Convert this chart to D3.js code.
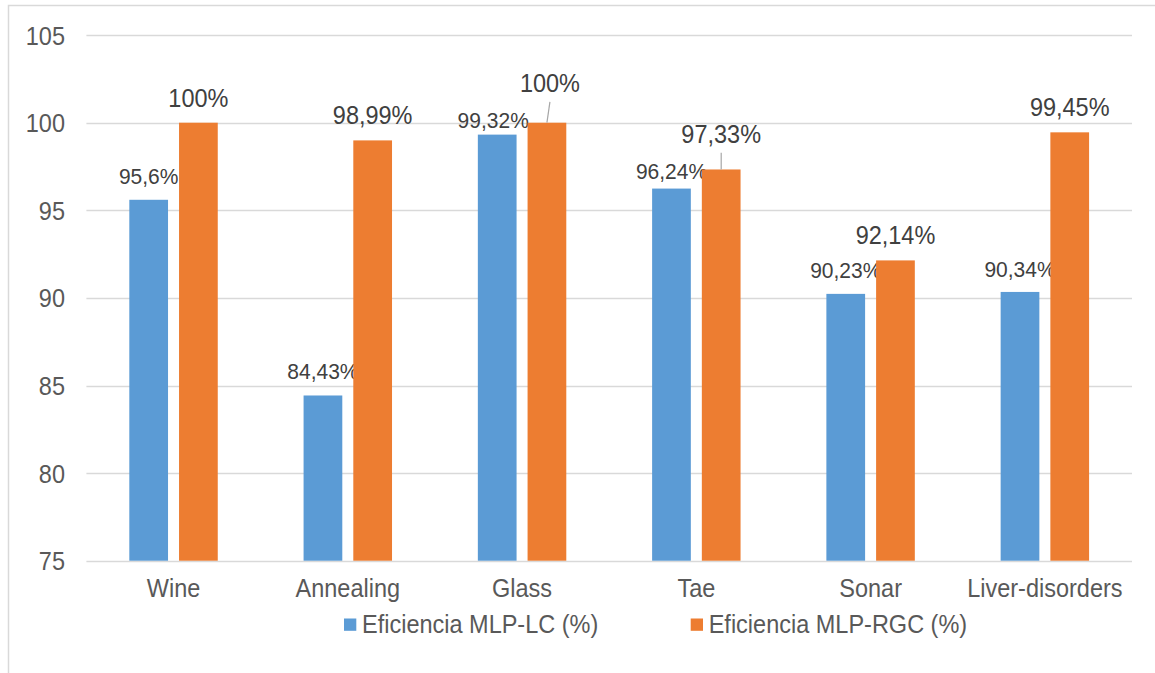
<!DOCTYPE html>
<html>
<head>
<meta charset="utf-8">
<script src="https://cdn.jsdelivr.net/npm/d3@7/dist/d3.min.js"></script>
<style>
  html, body { margin: 0; padding: 0; background: #fff; }
  svg { display: block; font-family: "Liberation Sans", Arial, sans-serif; }
</style>
</head>
<body>
<svg id="chart" width="1155" height="673"></svg>
<script>
// Datasets and efficiency of each classifier (%)
const categories = ["Wine", "Annealing", "Glass", "Tae", "Sonar", "Liver-disorders"];
const seriesNames = ["Eficiencia MLP-LC (%)", "Eficiencia MLP-RGC (%)"];
const mlpLC  = [95.6, 84.43, 99.32, 96.24, 90.23, 90.34];
const mlpRGC = [100, 98.99, 100, 97.33, 92.14, 99.45];
const valueLabelsLC  = ["95,6%", "84,43%", "99,32%", "96,24%", "90,23%", "90,34%"];
const valueLabelsRGC = ["100%", "98,99%", "100%", "97,33%", "92,14%", "99,45%"];
const yTicks = [75, 80, 85, 90, 95, 100, 105];

// Label placement tweaks: [dx, gap above bar top (to baseline)]; leader = draw connector line
const lcLabelNudge  = [[0, 15.5], [0, 16.5], [-4, 7], [0, 10], [0, 15.5], [0, 15]];
const rgcLabelNudge = [[0, 16], [0, 16.5], [3, 30.4], [0, 26.2], [0, 16.7], [0, 16]];
const rgcLeader     = [false, false, true, true, false, false];

const colors = ["#5b9bd5", "#ed7d31"];
const TEXT_STRETCH = 1.07; // glyphs are drawn slightly taller than the font's natural shape
const svg = d3.select("#chart");

// Outer chart frame
svg.append("rect")
  .attr("x", 8.5).attr("y", 5.5)
  .attr("width", 1160).attr("height", 680)
  .attr("fill", "none").attr("stroke", "#d9d9d9").attr("stroke-width", 1.5);

const x0 = d3.scaleBand().domain(categories).range([86.4, 1132]).padding(0);
const x1 = d3.scaleBand().domain(seriesNames).range([0, x0.bandwidth()])
  .paddingInner(0.2213).paddingOuter(0.863);
const y = d3.scaleLinear().domain([75, 105]).range([560.7, 35.1]);

// Horizontal gridlines
svg.append("g").selectAll("line").data(yTicks).join("line")
  .attr("x1", 86.4).attr("x2", 1132)
  .attr("y1", d => Math.round(y(d)) + 0.5).attr("y2", d => Math.round(y(d)) + 0.5)
  .attr("stroke", "#d9d9d9").attr("stroke-width", 1.5);

// Y axis labels
const yAxis = d3.axisLeft(y).tickValues(yTicks).tickSize(0).tickPadding(0);
const yg = svg.append("g").attr("transform", "translate(65,0)").call(yAxis);
yg.select(".domain").remove();
yg.selectAll("text")
  .attr("fill", "#595959").attr("font-size", "23.5px")
  .attr("font-family", "Liberation Sans, Arial, sans-serif")
  .attr("dy", null).attr("y", 8.4)
  .attr("transform", `scale(1,${TEXT_STRETCH})`);

// X axis category labels
const xAxis = d3.axisBottom(x0).tickSize(0).tickPadding(0);
const xg = svg.append("g").attr("transform", "translate(0,597)").call(xAxis);
xg.select(".domain").remove();
xg.selectAll("text")
  .attr("fill", "#595959").attr("font-size", "23.5px")
  .attr("font-family", "Liberation Sans, Arial, sans-serif")
  .attr("dy", null).attr("y", 0)
  .attr("transform", `scale(1,${TEXT_STRETCH})`);

const seriesData = [mlpLC, mlpRGC];
const labelData = [valueLabelsLC, valueLabelsRGC];
const nudges = [lcLabelNudge, rgcLabelNudge];

seriesData.forEach((vals, s) => {
  const rows = categories.map((c, i) => ({ c, v: vals[i], label: labelData[s][i], i }));
  const g = svg.append("g");
  g.selectAll("rect").data(rows).join("rect")
    .attr("x", d => x0(d.c) + x1(seriesNames[s]))
    .attr("width", x1.bandwidth())
    .attr("y", d => y(d.v))
    .attr("height", d => y(75) - y(d.v))
    .attr("fill", colors[s]);

  const cx = d => x0(d.c) + x1(seriesNames[s]) + x1.bandwidth() / 2;

  if (s === 1) {
    g.selectAll("line.leader").data(rows.filter(d => rgcLeader[d.i])).join("line")
      .attr("class", "leader")
      .attr("x1", d => cx(d) + nudges[s][d.i][0])
      .attr("y1", d => y(d.v) - nudges[s][d.i][1] + 9.5)
      .attr("x2", d => cx(d))
      .attr("y2", d => y(d.v))
      .attr("stroke", "#a6a6a6").attr("stroke-width", 1.2);
  }

  g.selectAll("text").data(rows).join("text")
    .attr("transform", d =>
      `translate(${cx(d) + nudges[s][d.i][0]},${y(d.v) - nudges[s][d.i][1]}) scale(1,${TEXT_STRETCH})`)
    .attr("text-anchor", "middle")
    .attr("fill", "#404040")
    .attr("font-size", s === 0 ? "21px" : "23.5px")
    .text(d => d.label);
});

// Legend
const legendItems = [
  { name: seriesNames[0], color: colors[0], x: 344 },
  { name: seriesNames[1], color: colors[1], x: 690.7 }
];
const lg = svg.append("g");
legendItems.forEach(item => {
  lg.append("rect").attr("x", item.x).attr("y", 618.5)
    .attr("width", 12.3).attr("height", 12.3).attr("fill", item.color);
  lg.append("text")
    .attr("transform", `translate(${item.x + 18},633.3) scale(1,${TEXT_STRETCH})`)
    .attr("fill", "#595959").attr("font-size", "23.5px")
    .text(item.name);
});
</script>
</body>
</html>
